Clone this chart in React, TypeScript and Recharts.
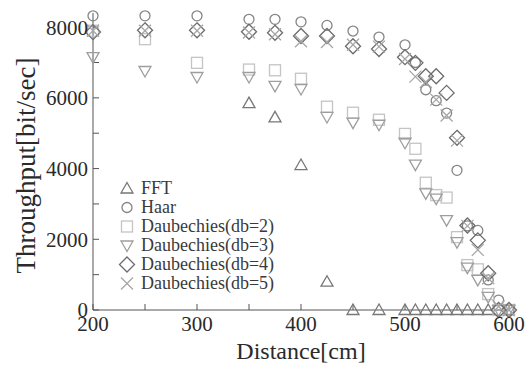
import { Scatter, ScatterChart, XAxis, YAxis } from 'recharts';

const FONT = '"Liberation Serif", "DejaVu Serif", serif';

const fftDistances = [350, 375, 400, 425, 450, 475, 500, 510, 520, 530, 540, 550, 560, 570, 580];
const fftRates = [5850, 5450, 4100, 800, 0, 0, 0, 0, 0, 0, 0, 0, 0, 0, 0];

const distances = [200, 250, 300, 350, 375, 400, 425, 450, 475, 500, 510, 520, 530, 540, 550, 560, 570, 580, 590, 600];
const haarRates = [8320, 8320, 8320, 8220, 8220, 8150, 8050, 7890, 7720, 7500, 7000, 6230, 5920, 5570, 3950, 2380, 2250, 850, 280, 0];
const db2Rates = [7900, 7660, 6990, 6800, 6780, 6540, 5750, 5580, 5380, 4980, 4560, 3600, 3250, 3180, 2060, 1270, 1150, 450, 0, 0];
const db3Rates = [7150, 6760, 6590, 6590, 6340, 6250, 5460, 5300, 5240, 4730, 4110, 3300, 3150, 2540, 1920, 1200, 850, 370, 0, 0];
const db4Rates = [7860, 7910, 7910, 7870, 7840, 7750, 7750, 7460, 7380, 7150, 6990, 6610, 6610, 6140, 4870, 2390, 1970, 1040, 0, 0];
const db5Rates = [7900, 7900, 7900, 7850, 7800, 7600, 7580, 7500, 7450, 7100, 6600, 6450, 5950, 5500, 4790, 2380, 1700, 900, 100, 0];

const xTicks = [200, 250, 300, 350, 400, 450, 500, 550, 600];
const yTicks = [0, 1000, 2000, 3000, 4000, 5000, 6000, 7000, 8000];

type Kind = 'triUp' | 'circle' | 'square' | 'triDown' | 'diamond' | 'cross';

const series: { name: string; kind: Kind; color: string; xs: number[]; ys: number[] }[] = [
  { name: 'FFT', kind: 'triUp', color: '#777777', xs: fftDistances, ys: fftRates },
  { name: 'Haar', kind: 'circle', color: '#858585', xs: distances, ys: haarRates },
  { name: 'Daubechies(db=2)', kind: 'square', color: '#c4c4c4', xs: distances, ys: db2Rates },
  { name: 'Daubechies(db=3)', kind: 'triDown', color: '#9e9e9e', xs: distances, ys: db3Rates },
  { name: 'Daubechies(db=4)', kind: 'diamond', color: '#6c6c6c', xs: distances, ys: db4Rates },
  { name: 'Daubechies(db=5)', kind: 'cross', color: '#a6a6a6', xs: distances, ys: db5Rates },
];

const Marker = ({ kind, cx, cy, color }: { kind: Kind; cx: number; cy: number; color: string }) => {
  const common = { fill: 'none', stroke: color, strokeWidth: 1.3 };
  switch (kind) {
    case 'triUp':
      return <path d={`M${cx},${cy - 6}L${cx + 6},${cy + 4.5}L${cx - 6},${cy + 4.5}Z`} {...common} />;
    case 'triDown':
      return <path d={`M${cx},${cy + 6}L${cx + 6},${cy - 4.5}L${cx - 6},${cy - 4.5}Z`} {...common} />;
    case 'circle':
      return <circle cx={cx} cy={cy} r={5} {...common} />;
    case 'square':
      return <rect x={cx - 5.5} y={cy - 5.5} width={11} height={11} {...common} />;
    case 'diamond':
      return <path d={`M${cx},${cy - 7.5}L${cx + 7.5},${cy}L${cx},${cy + 7.5}L${cx - 7.5},${cy}Z`} {...common} />;
    default:
      return <path d={`M${cx - 6},${cy - 6}L${cx + 6},${cy + 6}M${cx + 6},${cy - 6}L${cx - 6},${cy + 6}`} {...common} />;
  }
};

const tickStyle = { fill: '#2a2a2a', fontSize: 21, fontFamily: FONT };

export default function App() {
  return (
    <div style={{ position: 'relative', width: 530, height: 370, background: '#fff' }}>
      <style>{'body{margin:0}'}</style>
      <ScatterChart width={530} height={370} margin={{ top: 13, right: 21, bottom: 0, left: 0 }}>
        <XAxis
          xAxisId="b"
          dataKey="x"
          type="number"
          domain={[200, 600]}
          ticks={xTicks}
          tickFormatter={(v: number) => (v % 100 === 0 ? String(v) : '')}
          tickSize={-6}
          tickMargin={12}
          height={60}
          stroke="#555"
          tick={tickStyle}
          label={{ value: 'Distance[cm]', position: 'insideBottom', offset: 11, fill: '#2a2a2a', fontSize: 24, fontFamily: FONT }}
        />
        <XAxis
          xAxisId="t"
          orientation="top"
          type="number"
          domain={[200, 600]}
          ticks={xTicks}
          tickFormatter={() => ''}
          tickSize={-6}
          height={0}
          stroke="#555"
        />
        <YAxis
          yAxisId="l"
          dataKey="y"
          type="number"
          domain={[0, 8400]}
          ticks={yTicks}
          tickFormatter={(v: number) => (v % 2000 === 0 ? String(v) : '')}
          tickSize={-6}
          tickMargin={11}
          width={93}
          stroke="#555"
          tick={tickStyle}
          label={{
            content: (p: any) => {
              const vb = p.viewBox || { x: 0, y: 13, width: 93, height: 297 };
              const cx = vb.x + 26;
              const cy = vb.y + vb.height / 2 + 4;
              return (
                <text
                  x={cx}
                  y={cy}
                  transform={`rotate(-90, ${cx}, ${cy})`}
                  textAnchor="middle"
                  dominantBaseline="central"
                  fill="#2a2a2a"
                  fontSize={27}
                  fontFamily={FONT}
                >
                  Throughput[bit/sec]
                </text>
              );
            },
          }}
        />
        <YAxis
          yAxisId="r"
          orientation="right"
          type="number"
          domain={[0, 8400]}
          ticks={yTicks}
          tickFormatter={() => ''}
          tickSize={-6}
          width={0}
          stroke="#555"
        />
        {series.map((s) => (
          <Scatter
            key={s.name}
            name={s.name}
            xAxisId="b"
            yAxisId="l"
            data={s.xs.map((x, i) => ({ x, y: s.ys[i] }))}
            isAnimationActive={false}
            shape={(p: any) => <Marker kind={s.kind} cx={p.cx} cy={p.cy} color={s.color} />}
          />
        ))}
      </ScatterChart>
      <div style={{ position: 'absolute', left: 117, top: 179, fontFamily: FONT, fontSize: 18, color: '#3a3a3a', lineHeight: '19px' }}>
        {series.map((s) => (
          <div key={s.name} style={{ display: 'flex', alignItems: 'center', height: 19 }}>
            <svg width={20} height={19} style={{ marginRight: 4 }}>
              <Marker kind={s.kind} cx={10} cy={9.5} color={s.color} />
            </svg>
            <span>{s.name}</span>
          </div>
        ))}
      </div>
    </div>
  );
}
